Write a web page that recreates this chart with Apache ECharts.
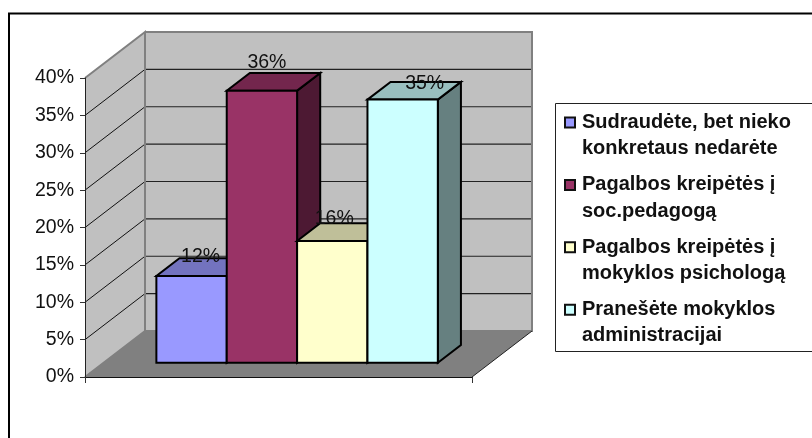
<!DOCTYPE html>
<html>
<head>
<meta charset="utf-8">
<style>html,body{margin:0;padding:0;background:#fff;overflow:hidden}#c{width:812px;height:438px}</style>
<script src="https://cdn.jsdelivr.net/npm/echarts@6/dist/echarts.min.js"></script>
</head>
<body>
<div id="c"></div>
<script>
var categories = [''];
var seriesNames = [
  'Sudraudėte, bet nieko\nkonkretaus nedarėte',
  'Pagalbos kreipėtės į\nsoc.pedagogą',
  'Pagalbos kreipėtės į\nmokyklos psichologą',
  'Pranešėte mokyklos\nadministracijai'
];
var values = [11.6, 36.4, 16.3, 35.2];
var yTicks = [0, 5, 10, 15, 20, 25, 30, 35, 40];

var frontColors = ['#9999FF', '#993366', '#FFFFCC', '#CCFFFF'];
var topColors = ['#7373BF', '#73264D', '#BFBF99', '#99BFBF'];
var sideColors = ['#4D4D80', '#4D1933', '#808066', '#668080'];
var labelNudgeX = [9, 5, 2, 22];
var labelNudgeY = [-19, -28, -22, -15.5];

var FONT = '"Liberation Sans", Arial, sans-serif';
var DEPTH_X = 60, DEPTH_Y = 46;
var INSET = 0.31, BAR_DEPTH = 0.385, GAP = 1.5;

function poly(points, fill, stroke, lw) {
  return { type: 'polygon', shape: { points: points },
    style: { fill: fill, stroke: stroke || null, lineWidth: lw || 0 } };
}
function line(x1, y1, x2, y2, color, lw) {
  return { type: 'line', shape: { x1: x1, y1: y1, x2: x2, y2: y2 },
    style: { stroke: color, lineWidth: lw } };
}

function renderWalls(params, api) {
  var v = api.value(1);
  var band = api.size([1, 0])[0];
  var cx = api.coord([0, 0])[0];
  var L = cx - band / 2, R = cx + band / 2;
  var y0 = api.coord([0, 0])[1];
  var y = api.coord([0, v])[1];
  var yTop = api.coord([0, yTicks[yTicks.length - 1]])[1];
  var kids = [];
  if (params.dataIndex === 0) {
    kids.push(poly([[L, y0], [R, y0], [R + DEPTH_X, y0 - DEPTH_Y], [L + DEPTH_X, y0 - DEPTH_Y]], '#808080'));
    kids.push(poly([[L, y0], [L, yTop], [L + DEPTH_X, yTop - DEPTH_Y], [L + DEPTH_X, y0 - DEPTH_Y]], '#C0C0C0'));
    kids.push(poly([[L + DEPTH_X, yTop - DEPTH_Y], [R + DEPTH_X, yTop - DEPTH_Y], [R + DEPTH_X, y0 - DEPTH_Y], [L + DEPTH_X, y0 - DEPTH_Y]], '#C0C0C0'));
  }
  if (v > 0 && v < yTicks[yTicks.length - 1]) {
    kids.push(line(L, y, L + DEPTH_X, y - DEPTH_Y, '#111', 1));
    kids.push(line(L + DEPTH_X, y - DEPTH_Y, R + DEPTH_X, y - DEPTH_Y, '#222', 1.2));
  }
  if (params.dataIndex === yTicks.length - 1) {
    var border = { stroke: '#808080', lineWidth: 2, fill: null };
    kids.push({ type: 'polyline', shape: { points: [[L, y0], [L + DEPTH_X, y0 - DEPTH_Y], [L + DEPTH_X, yTop - DEPTH_Y], [L, yTop]] }, style: border });
    kids.push({ type: 'polyline', shape: { points: [[L + DEPTH_X, yTop - DEPTH_Y], [R + DEPTH_X, yTop - DEPTH_Y], [R + DEPTH_X, y0 - DEPTH_Y], [L + DEPTH_X, y0 - DEPTH_Y]] }, style: border });
    kids.push(line(R, y0, R + DEPTH_X, y0 - DEPTH_Y, '#222', 1));
  }
  return { type: 'group', children: kids };
}

function makeBarRenderer(i) {
  return function (params, api) {
    var v = api.value(1);
    var band = api.size([1, 0])[0];
    var cx = api.coord([0, 0])[0];
    var w = band / (seriesNames.length + GAP);
    var dx = DEPTH_X * INSET, dy = DEPTH_Y * INSET;
    var bx = DEPTH_X * BAR_DEPTH, by = DEPTH_Y * BAR_DEPTH;
    var x1 = cx - band / 2 + w * (GAP / 2 + i) + dx;
    var x2 = x1 + w;
    var yb = api.coord([0, 0])[1] - dy;
    var yt = api.coord([0, v])[1] - dy;
    var lw = 2;
    return { type: 'group', children: [
      poly([[x2, yb], [x2, yt], [x2 + bx, yt - by], [x2 + bx, yb - by]], sideColors[i], '#000', lw),
      poly([[x1, yt], [x2, yt], [x2 + bx, yt - by], [x1 + bx, yt - by]], topColors[i], '#000', lw),
      poly([[x1, yb], [x2, yb], [x2, yt], [x1, yt]], frontColors[i], '#000', lw),
      { type: 'text', style: {
          x: (x1 + x2) / 2 + labelNudgeX[i], y: yt + labelNudgeY[i],
          text: Math.round(v) + '%', fill: '#111', font: '19.5px ' + FONT,
          align: 'center', verticalAlign: 'middle' } }
    ] };
  };
}

var series = [{
  type: 'custom', name: 'walls', z: 1, silent: true,
  data: yTicks.map(function (t) { return [0, t]; }),
  encode: { x: 0, y: 1 }, renderItem: renderWalls
}];
seriesNames.forEach(function (n, i) {
  series.push({
    type: 'custom', name: n, z: 2 + i, silent: true,
    itemStyle: { color: frontColors[i] },
    data: [[0, values[i]]], encode: { x: 0, y: 1 },
    renderItem: makeBarRenderer(i)
  });
});

var chart = echarts.init(document.getElementById('c'), null, { renderer: 'canvas' });
chart.setOption({
  animation: false,
  backgroundColor: '#fff',
  textStyle: { fontFamily: FONT },
  tooltip: { show: false },
  graphic: [
    { type: 'rect', z: -5, shape: { x: 9, y: 13.5, width: 1000, height: 800 },
      style: { fill: '#fff', stroke: '#000', lineWidth: 2 } },
    { type: 'rect', z: -4, shape: { x: 555.5, y: 103.5, width: 400, height: 248 },
      style: { fill: '#fff', stroke: '#222', lineWidth: 1 } }
  ],
  grid: { left: 85, top: 78, width: 387, height: 299, containLabel: false },
  xAxis: {
    type: 'category', data: categories, z: 8,
    axisLine: { lineStyle: { color: '#111', width: 1 } },
    axisTick: { show: true, length: 6, lineStyle: { color: '#333' } },
    axisLabel: { show: false }, splitLine: { show: false }
  },
  yAxis: {
    type: 'value', min: 0, max: 40, interval: 5, z: 8,
    axisLine: { show: true, lineStyle: { color: '#222', width: 1 } },
    axisTick: { show: true, length: 5, lineStyle: { color: '#333' } },
    axisLabel: { formatter: '{value}%', fontSize: 19.5, fontFamily: FONT, color: '#111', margin: 11, padding: [3, 0, 0, 0] },
    splitLine: { show: false }
  },
  legend: {
    orient: 'vertical', left: 564, top: 109, padding: 0,
    itemWidth: 12, itemHeight: 36, itemGap: 9.4, selectedMode: false,
    icon: 'path://M0 0H10V10H0Z M12 36L12 36',
    textStyle: { fontFamily: FONT, fontWeight: 'bold', fontSize: 20, lineHeight: 26.5, color: '#111' },
    data: seriesNames.map(function (n, i) {
      return { name: n, itemStyle: { color: frontColors[i], borderColor: '#111', borderWidth: 2 } };
    })
  },
  series: series
});
</script>
</body>
</html>
